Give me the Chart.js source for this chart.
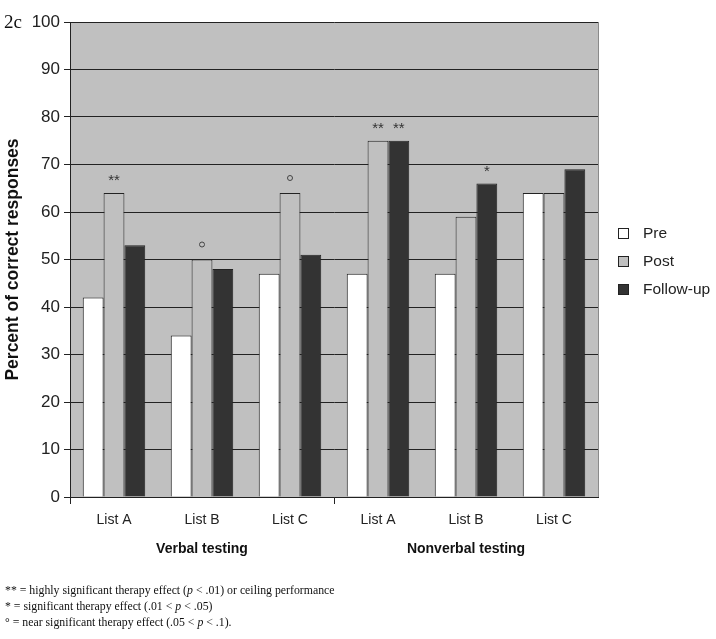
<!DOCTYPE html>
<html>
<head>
<meta charset="utf-8">
<script src="https://cdn.jsdelivr.net/npm/chart.js@4/dist/chart.umd.min.js"></script>
<style>
  body { margin: 0; background: #fff; }
  #wrap { position: relative; width: 716px; height: 639px; }
  .notes { position: absolute; left: 5px; top: 582px; font-family: "Liberation Serif", "Times New Roman", serif; font-size: 11.8px; line-height: 16px; color: #111; }
</style>
</head>
<body>
<div id="wrap">
  <canvas id="chart" width="716" height="639"></canvas>
  <div class="notes">
    <div>** = highly significant therapy effect (<i>p</i> &lt; .01) or ceiling performance</div>
    <div>* = significant therapy effect (.01 &lt; <i>p</i> &lt; .05)</div>
    <div>° = near significant therapy effect (.05 &lt; <i>p</i> &lt; .1).</div>
  </div>
</div>
<script>
// Data
const lists = ['List A', 'List B', 'List C', 'List A', 'List B', 'List C'];
const groups = ['Verbal testing', 'Nonverbal testing'];
const pre = [42, 34, 47, 47, 47, 64];
const post = [64, 50, 64, 75, 59, 64];
const followUp = [53, 48, 51, 75, 66, 69];
const postMarks = ['**', '°', '°', '**', '', ''];
const followMarks = ['', '', '', '**', '*', ''];
const yTicks = [0, 10, 20, 30, 40, 50, 60, 70, 80, 90, 100];

const sans = '"Liberation Sans", Arial, sans-serif';

// Grey plot background, right border, group labels, marks, legend, panel tag
const decorations = {
    id: 'decorations',
    beforeDraw(chart) {
        const { ctx, chartArea: a } = chart;
        ctx.save();
        ctx.fillStyle = '#c0c0c0';
        ctx.fillRect(a.left, a.top, a.right - a.left, a.bottom - a.top);
        ctx.restore();
    },
    afterDraw(chart) {
        const { ctx, chartArea: a } = chart;
        const x = chart.scales.x;
        ctx.save();

        // right border of plot area
        ctx.strokeStyle = '#8a8a8a';
        ctx.lineWidth = 1;
        ctx.beginPath();
        ctx.moveTo(a.right + 0.5, a.top);
        ctx.lineTo(a.right + 0.5, a.bottom);
        ctx.stroke();

        // group labels
        ctx.fillStyle = '#111';
        ctx.font = 'bold 14px ' + sans;
        ctx.textAlign = 'center';
        ctx.textBaseline = 'middle';
        groups.forEach((g, i) => {
            ctx.fillText(g, x.getPixelForValue(i * 3 + 1), 549);
        });

        // significance marks
        const drawMark = (mark, bar) => {
            if (!mark) return;
            const cx = bar.x;
            const cy = bar.y - 15;
            if (mark === '°') {
                ctx.strokeStyle = '#444';
                ctx.lineWidth = 1;
                ctx.beginPath();
                ctx.arc(cx, cy, 2.5, 0, Math.PI * 2);
                ctx.stroke();
            } else {
                ctx.fillStyle = '#333';
                ctx.font = '15px ' + sans;
                ctx.textAlign = 'center';
                ctx.textBaseline = 'middle';
                ctx.fillText(mark, cx, cy + 3);
            }
        };
        const postBars = chart.getDatasetMeta(1).data;
        const followBars = chart.getDatasetMeta(2).data;
        postMarks.forEach((m, i) => drawMark(m, postBars[i]));
        followMarks.forEach((m, i) => drawMark(m, followBars[i]));

        // legend
        ctx.font = '15.5px ' + sans;
        ctx.textAlign = 'left';
        ctx.textBaseline = 'middle';
        chart.data.datasets.forEach((ds, i) => {
            const ly = 234 + i * 28;
            ctx.fillStyle = ds.backgroundColor;
            ctx.fillRect(618.5, ly - 5.5, 10, 10);
            ctx.strokeStyle = '#222';
            ctx.lineWidth = 1;
            ctx.strokeRect(618.5, ly - 5.5, 10, 10);
            ctx.fillStyle = '#222';
            ctx.fillText(ds.label, 643, ly);
        });

        // panel tag
        ctx.font = '19px "Liberation Serif", "Times New Roman", serif';
        ctx.fillStyle = '#111';
        ctx.textBaseline = 'alphabetic';
        ctx.fillText('2c', 4, 28);
        ctx.restore();
    }
};

new Chart(document.getElementById('chart'), {
    type: 'bar',
    data: {
        labels: lists,
        datasets: [
            { label: 'Pre', data: pre, backgroundColor: '#ffffff' },
            { label: 'Post', data: post, backgroundColor: '#c0c0c0' },
            { label: 'Follow-up', data: followUp, backgroundColor: '#333333' }
        ]
    },
    options: {
        responsive: false,
        animation: false,
        layout: { padding: { top: 22, right: 118, bottom: 0, left: 0 } },
        datasets: {
            bar: {
                borderColor: '#222',
                borderWidth: 1,
                categoryPercentage: 0.71,
                barPercentage: 1.0
            }
        },
        plugins: {
            legend: { display: false },
            tooltip: { enabled: false }
        },
        scales: {
            x: {
                afterFit(scale) { scale.height = 142; },
                grid: {
                    offset: true,
                    drawOnChartArea: false,
                    tickLength: 7,
                    color: (c) => (c.index % 3 === 0 ? '#222' : 'rgba(0,0,0,0)')
                },
                border: { color: '#222', width: 1 },
                ticks: {
                    color: '#222',
                    font: { family: sans, size: 14 },
                    padding: 8,
                    maxRotation: 0
                }
            },
            y: {
                min: 0,
                max: 100,
                afterFit(scale) { scale.width = 70; },
                afterBuildTicks(scale) { scale.ticks = yTicks.map(v => ({ value: v })); },
                grid: { color: '#222', tickLength: 6, lineWidth: 1 },
                border: { color: '#222', width: 1 },
                ticks: {
                    color: '#222',
                    font: { family: sans, size: 17 },
                    padding: 4
                },
                title: {
                    display: true,
                    text: 'Percent of correct responses',
                    color: '#111',
                    font: { family: sans, size: 17.5, weight: 'bold' },
                    padding: { top: 3, bottom: 0 }
                }
            }
        }
    },
    plugins: [decorations]
});
</script>
</body>
</html>
